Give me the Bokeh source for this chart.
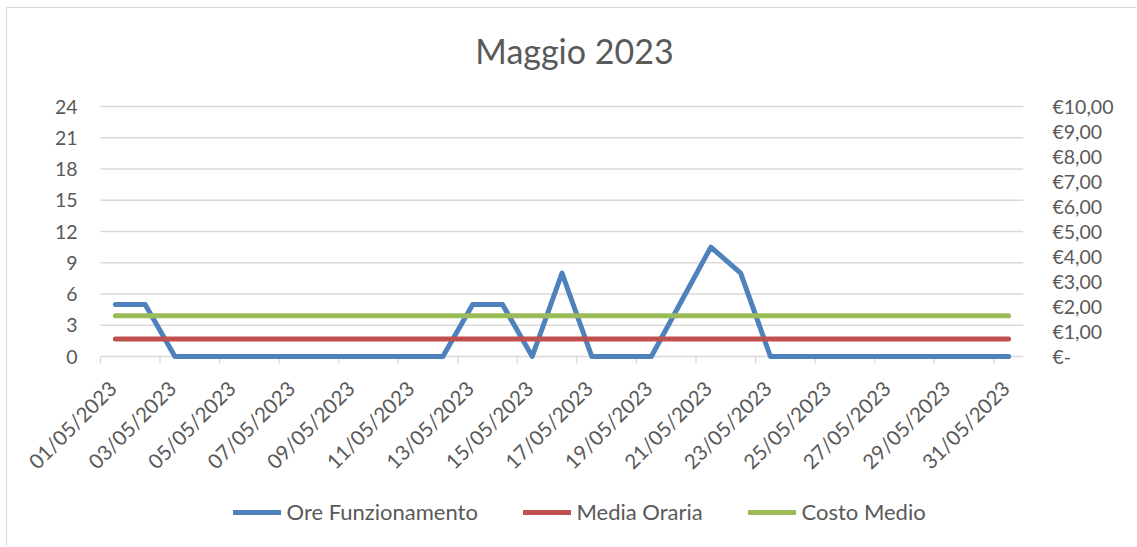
import math
from bokeh.plotting import figure
from bokeh.models import Range1d, LinearAxis, FixedTicker, Legend, LegendItem
from bokeh.core.properties import value
from bokeh.embed import file_html
from bokeh.resources import INLINE

# ---------------- data ----------------
TITLE = "Maggio 2023"
days = list(range(1, 32))
date_labels = ["%02d/05/2023" % d for d in days]
ore_funzionamento = [5, 5, 0, 0, 0, 0, 0, 0, 0, 0, 0, 0, 5, 5, 0, 8, 0, 0, 0, 5.25,
                     10.5, 8, 0, 0, 0, 0, 0, 0, 0, 0, 0]
MEDIA_ORARIA = 1.67   # ore (asse sinistro)
COSTO_MEDIO = 1.63    # euro (asse destro)
media_oraria = [MEDIA_ORARIA] * len(days)
costo_medio = [COSTO_MEDIO] * len(days)

left_ticks = [0, 3, 6, 9, 12, 15, 18, 21, 24]
left_labels = [str(t) for t in left_ticks]
right_ticks = list(range(0, 11))
right_labels = ["€-"] + ["€%d,00" % v for v in right_ticks[1:]]

FONT = "Lato"
TXT = "#595959"
GRID = "#d9d9d9"
TICK_FS = "19.5px"
DATE_FS = "20.5px"

# ---------------- geometry (canvas pixels; canvas sits at page (7, 8)) ----------------
W, H = 1130, 539
RIGHT = 114                 # room for the euro axis
PLOT_LEFT = 93              # left end of category axis
PLOT_TOP = 98               # y of the 24 gridline
PLOT_H = 250                # pixels between 0 and 24
FRAME_W = W - RIGHT
n_cat = len(days)
px_per_day = (FRAME_W - PLOT_LEFT) / n_cat
x_lo = 0.5 - PLOT_LEFT / px_per_day
x_hi = n_cat + 0.5
px_per_h = PLOT_H / left_ticks[-1]
y_hi = left_ticks[-1] + PLOT_TOP / px_per_h
y_lo = left_ticks[-1] - (H - PLOT_TOP) / px_per_h
px_per_eur = PLOT_H / right_ticks[-1]
eur_hi = right_ticks[-1] + PLOT_TOP / px_per_eur
eur_lo = right_ticks[-1] - (H - PLOT_TOP) / px_per_eur

p = figure(width=W, height=H, output_backend="svg", toolbar_location=None,
           x_axis_location=None, y_axis_location=None,
           x_range=Range1d(x_lo, x_hi), y_range=Range1d(y_lo, y_hi),
           min_border_left=0, min_border_right=RIGHT, min_border_top=0,
           min_border_bottom=0)
p.outline_line_color = None
p.xgrid.visible = False
p.ygrid.visible = False
p.styles = {"margin-left": "6px", "margin-top": "7px",
            "border-top": "1px solid #d9d9d9", "border-left": "1px solid #d9d9d9"}
p.extra_y_ranges = {"euro": Range1d(eur_lo, eur_hi)}

# title (centre at canvas x 567)
p.text(x=[x_lo + 567 / px_per_day], y=[y_hi - 42 / px_per_h], text=[TITLE],
       text_align="center", text_baseline="alphabetic",
       text_font=value(FONT), text_font_size=value("34px"), text_color=TXT)

# right axis (euro)
ra = LinearAxis(y_range_name="euro",
                ticker=FixedTicker(ticks=right_ticks, minor_ticks=[]))
ra.major_label_overrides = {v: t for v, t in zip(right_ticks, right_labels)}
ra.axis_line_color = None
ra.major_tick_line_color = None
ra.major_tick_out = 0
ra.major_tick_in = 0
ra.minor_tick_line_color = None
ra.major_label_standoff = 29
ra.major_label_text_font = FONT
ra.major_label_text_font_size = TICK_FS
ra.major_label_text_color = TXT
p.add_layout(ra, "right")

x0 = 0.5
x1 = n_cat + 0.5
# horizontal gridlines (0 .. 24)
p.segment(x0=[x0] * len(left_ticks), y0=left_ticks, x1=[x1] * len(left_ticks),
          y1=left_ticks, line_color=GRID, line_width=1.3)
# left value labels
p.text(x=[x0] * len(left_ticks), y=left_ticks, text=left_labels,
       text_align="right", text_baseline="middle", x_offset=-23,
       text_font=value(FONT), text_font_size=value(TICK_FS), text_color=TXT)

# category axis at y = 0
odd_days = days[::2]
bounds = [d - 0.5 for d in odd_days]
tick_len = 7 / px_per_h
p.segment(x0=bounds, y0=[0] * len(bounds), x1=bounds, y1=[-tick_len] * len(bounds),
          line_color=GRID, line_width=1.3)
p.text(x=odd_days, y=[0] * len(odd_days), text=[date_labels[d - 1] for d in odd_days],
       angle=math.pi / 4, text_align="right", text_baseline="middle",
       x_offset=-3, y_offset=28,
       text_font=value(FONT), text_font_size=value(DATE_FS), text_color=TXT)

# lines
r_ore = p.line(days, ore_funzionamento, line_color="#4F81BD", line_width=5,
               line_cap="round", line_join="round")
r_media = p.line(days, media_oraria, line_color="#C0504D", line_width=5,
                 line_cap="round", line_join="round")
r_costo = p.line(days, costo_medio, line_color="#9BBB59", line_width=5,
                 line_cap="round", line_join="round", y_range_name="euro")

# legend entries, positioned like the original
for r, lab, xpos in [(r_ore, "Ore Funzionamento", 225.5),
                     (r_media, "Media Oraria", 515.5),
                     (r_costo, "Costo Medio", 740.5)]:
    lg = Legend(items=[LegendItem(label=lab, renderers=[r])], location=(xpos, 22),
                orientation="horizontal", glyph_width=48, glyph_height=24,
                label_height=24, label_standoff=6, padding=0, margin=0, spacing=0,
                border_line_color=None, background_fill_alpha=0,
                label_text_font=FONT, label_text_font_size="22px",
                label_text_color=TXT)
    p.add_layout(lg, "center")

open("out.html", "w").write(file_html(p, INLINE))
